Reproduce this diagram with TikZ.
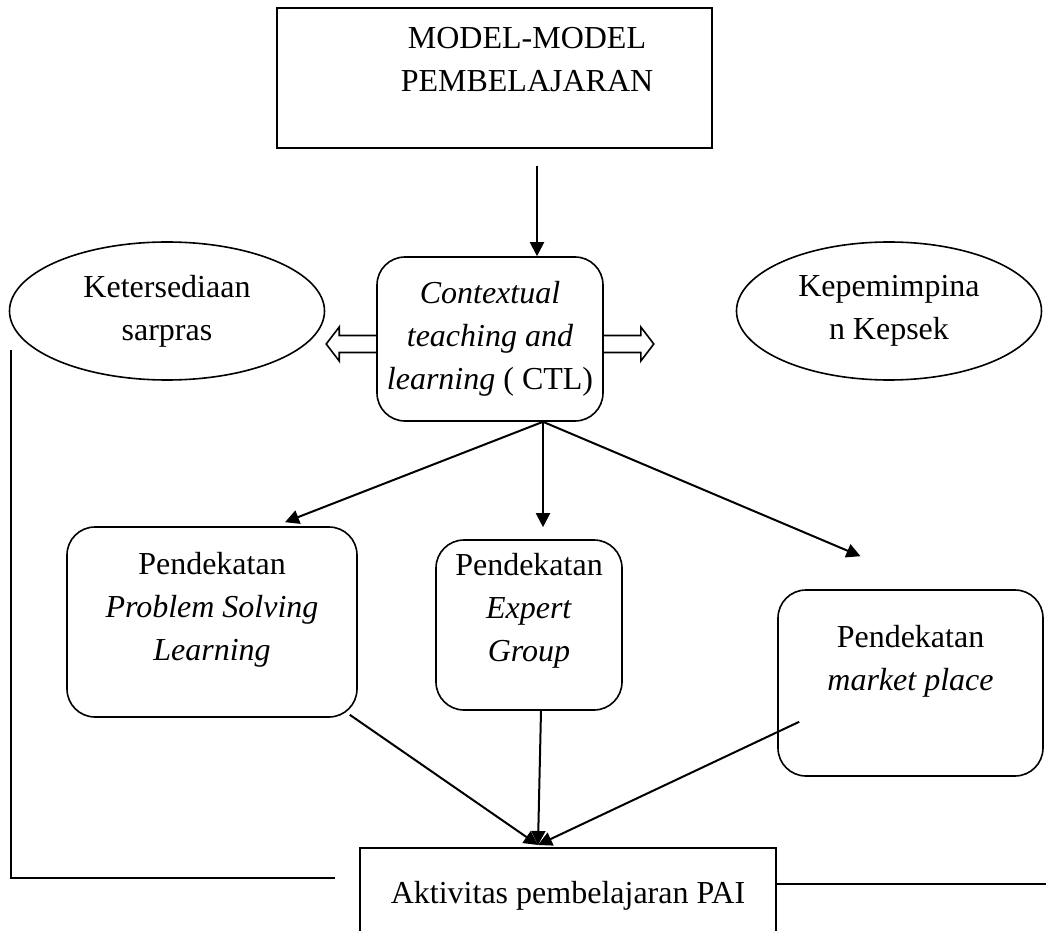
\documentclass[tikz,border=0pt]{standalone}
\usepackage{fontspec}
\setmainfont{Liberation Serif}
\usetikzlibrary{arrows.meta, positioning, calc, shapes.geometric}

\begin{document}
\begin{tikzpicture}[
    x=0.5pt, y=-0.5pt,
    every node/.style={font=\fontsize{16}{21.5}\selectfont},
    box/.style={draw, line width=0.8pt, align=center, inner sep=0pt},
    roundbox/.style={box, rounded corners=14pt},
    oval/.style={draw, ellipse, line width=0.8pt, align=center, inner sep=0pt},
    arrow/.style={-{Triangle[length=7pt, width=7pt]}, line width=1pt},
    hollow/.style={line width=0.8pt, line join=miter},
    link/.style={line width=0.8pt}
]
    \useasboundingbox (0,0) rectangle (1046,931);

    % Model box
    \node[box, minimum width=217.5pt, minimum height=70pt] (model) at (494.5,78) {};
    \node[align=center] (modeltitle) at (527,60) {MODEL-MODEL\\PEMBELAJARAN};

    % CTL
    \node[roundbox, minimum width=113pt, minimum height=82pt] (ctl) at (490,339) {\textit{Contextual}\\\textit{teaching and}\\\textit{learning} ( CTL)};

    % Factors
    \node[oval, minimum width=157.5pt, minimum height=69pt] (sarpras) at (167,311) {Ketersediaan\\sarpras};
    \node[oval, minimum width=152.5pt, minimum height=69pt] (kepsek) at (889,311) {Kepemimpina\\n Kepsek};

    % Approaches
    \node[roundbox, minimum width=145pt, minimum height=95pt] (psl) at (212,622) {Pendekatan\\\textit{Problem Solving}\\\textit{Learning}\\[-6pt]~};
    \node[roundbox, minimum width=93pt, minimum height=85pt] (expert) at (529,625) {Pendekatan\\\textit{Expert}\\\textit{Group}\\[-4pt]~};
    \node[roundbox, minimum width=132.5pt, minimum height=93pt] (market) at (910.5,683) {Pendekatan\\\textit{market place}\\[4pt]~};

    % Aktivitas
    \node[box, minimum width=208pt, minimum height=48pt] (aktivitas) at (568,896) {Aktivitas pembelajaran PAI};

    \coordinate (drop) at ($(model.south)+(42.5,17)$);
    \coordinate (ctlfoot) at ($(ctl.south)+(53,0)$);
    \coordinate (meet) at (538,845);
    \coordinate (leftend) at (335,878);
    \coordinate (rightend) at (1046,884);

    % Hollow arrows
    \draw[hollow] ($(ctl.west)+(0,-3.5)$) -- ++(-37,0) -- ++(0,-8.5) -- ++(-13,17) -- ++(13,17) -- ++(0,-8.5) -- ++(37,0);
    \draw[hollow] ($(ctl.east)+(0,-3.5)$) -- ++(37,0) -- ++(0,-8.5) -- ++(13,17) -- ++(-13,17) -- ++(0,-8.5) -- ++(-37,0);

    \draw[arrow] (drop) -- (drop |- ctl.north);
    \draw[arrow] (ctlfoot) -- ($(psl.north)+(73,-4)$);
    \draw[arrow, shorten >=6pt] (ctlfoot) -- (ctlfoot |- expert.north);
    \draw[arrow] (ctlfoot) -- ($(market.north)+(-50,-33)$);

    \draw[arrow] ($(psl.south east)+(-8,-3)$) -- (meet);
    \draw[arrow] ($(expert.south)+(12,0)$) -- (meet);
    \draw[arrow] ($(market.south west)+(22,-55)$) -- (meet);

    \draw[link] ($(sarpras.west)+(2,39)$) |- (leftend);
    \draw[link] (aktivitas.east |- rightend) -- (rightend);
\end{tikzpicture}
\end{document}
